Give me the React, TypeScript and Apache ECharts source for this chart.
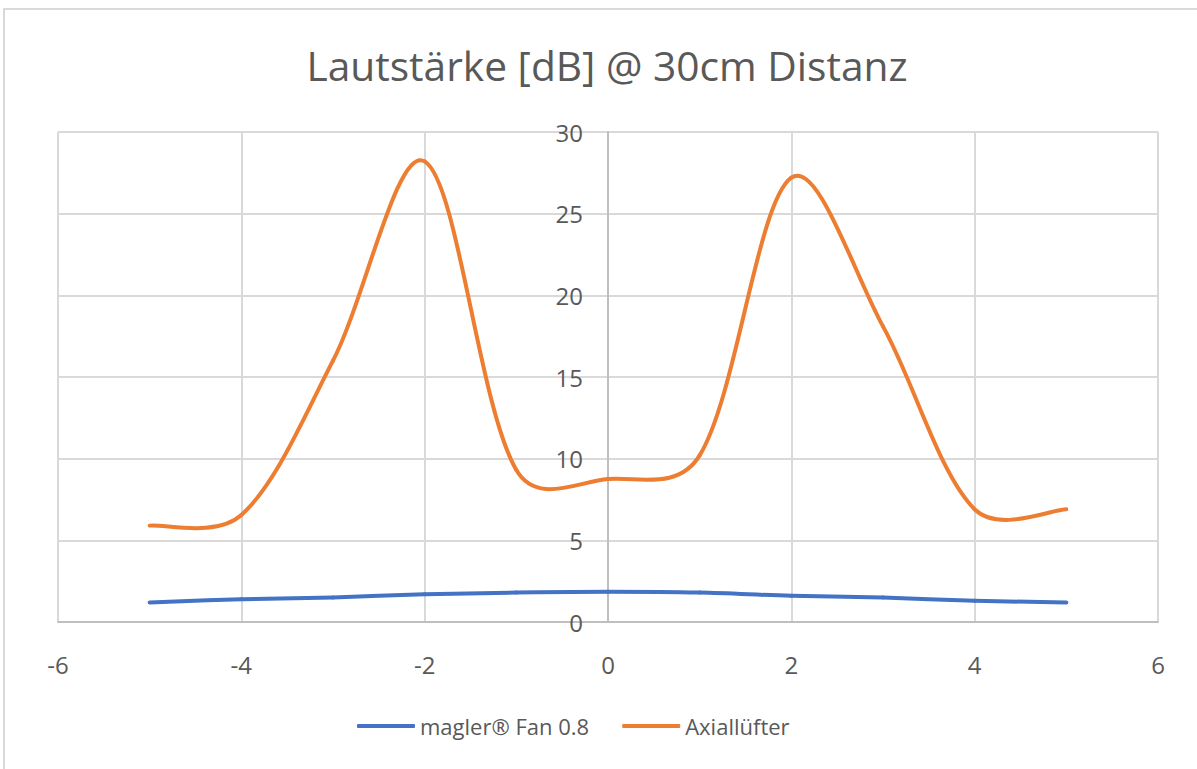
import React, { useEffect, useRef } from "react";
import * as echarts from "echarts";

const xPositions = [-5, -4, -3, -2, -1, 0, 1, 2, 3, 4, 5];
const maglerValues = [1.2, 1.4, 1.5, 1.7, 1.8, 1.85, 1.8, 1.6, 1.5, 1.3, 1.2];
const axialValues = [5.9, 6.55, 16.0, 28.2, 9.3, 8.75, 10.2, 27.2, 18.1, 6.9, 6.9];
const seriesNames = ["magler® Fan 0.8", "Axiallüfter"];
const seriesColors = ["#4472C4", "#ED7D31"];
const titleText = "Lautstärke [dB] @ 30cm Distanz";

const FONT = "'Open Sans', 'Noto Sans', sans-serif";
const TEXT = "#595959";

// Excel-like smoothed line: each data item draws the Bezier segment to the next point
function makeRenderer(values: number[], color: string) {
  return (params: any, api: any) => {
    const i = params.dataIndex;
    const n = xPositions.length;
    if (i >= n - 1) return null;
    const pt = (k: number) => {
      const kk = Math.max(0, Math.min(n - 1, k));
      return api.coord([xPositions[kk], values[kk]]);
    };
    const dist = (a: number[], b: number[]) => Math.hypot(a[0] - b[0], a[1] - b[1]);
    const p0 = pt(i - 1);
    const p1 = pt(i);
    const p2 = pt(i + 1);
    const p3 = pt(i + 2);
    const factor = (prev: number[], cur: number[], next: number[], adj: number) => {
      const dIn = dist(prev, cur);
      const dOut = dist(cur, next);
      if (dIn === 0 || dOut === 0) return 1 / 6;
      const lw = (1 / 3) * adj / (dIn + dOut);
      return Math.sqrt(lw / 6);
    };
    const f1 = factor(p0, p1, p2, dist(p1, p2));
    const f2 = factor(p1, p2, p3, dist(p1, p2));
    return {
      type: "bezierCurve",
      shape: {
        x1: p1[0],
        y1: p1[1],
        cpx1: p1[0] + (p2[0] - p0[0]) * f1,
        cpy1: p1[1] + (p2[1] - p0[1]) * f1,
        cpx2: p2[0] - (p3[0] - p1[0]) * f2,
        cpy2: p2[1] - (p3[1] - p1[1]) * f2,
        x2: p2[0],
        y2: p2[1],
      },
      style: { stroke: color, lineWidth: 4, fill: "none", lineCap: "round" },
      silent: true,
    };
  };
}

export default function App() {
  const ref = useRef<HTMLDivElement>(null);
  useEffect(() => {
    if (!ref.current) return;
    const chart = echarts.init(ref.current, undefined, { renderer: "svg" });
    const pair = (vals: number[]) => xPositions.map((x, i) => [x, vals[i]]);
    chart.setOption({
      animation: false,
      backgroundColor: "transparent",
      title: {
        text: titleText,
        left: 602,
        top: 39,
        textAlign: "center",
        textStyle: { fontFamily: FONT, fontWeight: "normal", fontSize: 40.7, color: TEXT },
      },
      legend: {
        left: 352,
        top: 710,
        itemWidth: 58,
        itemHeight: 4,
        itemGap: 33,
        textStyle: { fontFamily: FONT, fontSize: 22, color: TEXT },
        data: seriesNames.map((n) => ({ name: n, icon: "roundRect" })),
      },
      grid: { left: 58, right: 39, top: 132, bottom: 147 },
      xAxis: {
        type: "value",
        min: -6,
        max: 6,
        interval: 2,
        axisLine: { onZero: true, lineStyle: { color: "#bfbfbf", width: 2 } },
        axisTick: { show: false },
        axisLabel: { margin: 30, fontFamily: FONT, fontSize: 24, color: TEXT },
        splitLine: { lineStyle: { color: "#d9d9d9", width: 2 } },
      },
      yAxis: {
        type: "value",
        min: 0,
        max: 30,
        interval: 5,
        offset: -550,
        axisLine: { show: true, onZero: false, lineStyle: { color: "#bfbfbf", width: 2 } },
        axisTick: { show: false },
        axisLabel: { margin: 25, fontFamily: FONT, fontSize: 24, color: TEXT },
        splitLine: { lineStyle: { color: "#d9d9d9", width: 2 } },
      },
      series: [
        {
          name: seriesNames[0],
          type: "custom",
          data: pair(maglerValues),
          itemStyle: { color: seriesColors[0] },
          renderItem: makeRenderer(maglerValues, seriesColors[0]),
        },
        {
          name: seriesNames[1],
          type: "custom",
          data: pair(axialValues),
          itemStyle: { color: seriesColors[1] },
          renderItem: makeRenderer(axialValues, seriesColors[1]),
        },
      ],
    });
    return () => chart.dispose();
  }, []);
  return (
    <div
      style={{
        position: "fixed",
        left: 0,
        top: 0,
        width: 1197,
        height: 769,
        overflow: "hidden",
        background: "#ffffff",
      }}
    >
      <div
        style={{
          position: "absolute",
          left: 3,
          top: 8,
          width: 1400,
          height: 1000,
          border: "2px solid #d9d9d9",
          boxSizing: "border-box",
        }}
      />
      <div ref={ref} style={{ position: "absolute", left: 0, top: 0, width: 1197, height: 769 }} />
    </div>
  );
}
